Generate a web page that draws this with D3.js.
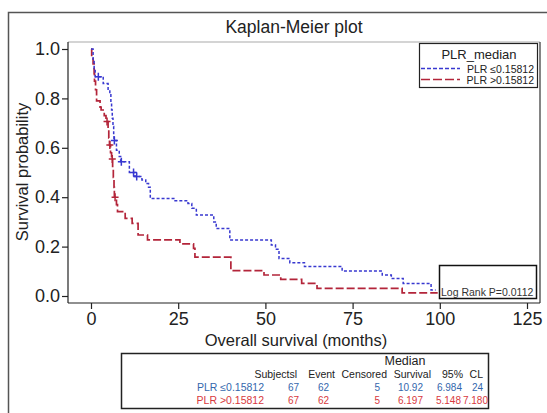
<!DOCTYPE html>
<html>
<head>
<meta charset="utf-8">
<script src="https://cdn.jsdelivr.net/npm/d3@7"></script>
<style>
  body { margin: 0; background: #fff; }
  svg { font-family: "Liberation Sans", Arial, sans-serif; }
</style>
</head>
<body>
<svg id="chart" width="547" height="413"></svg>
<script>
// survival curves (months, survival probability)
const blueTimes = [0, 0.6, 0.9, 1.2, 3.5, 4.9, 5.4, 5.7, 5.9, 6.1, 6.3, 6.5, 6.6, 7.3, 8.1, 8.5, 11.0, 12.6, 14.6, 15.7, 16.5, 17.0, 24.1, 27.8, 28.9, 30.2, 35.2, 35.9, 39.8, 51.7, 52.9, 53.9, 57.0, 61.2, 72.0, 83.5, 86.1, 89.5, 97.5, 98.8]
const blueSurv  = [1.0, 0.955, 0.92, 0.888, 0.86, 0.834, 0.82, 0.78, 0.753, 0.72, 0.686, 0.65, 0.63, 0.59, 0.565, 0.544, 0.50, 0.484, 0.47, 0.455, 0.44, 0.395, 0.386, 0.375, 0.355, 0.328, 0.30, 0.273, 0.227, 0.206, 0.189, 0.152, 0.135, 0.119, 0.101, 0.085, 0.071, 0.051, 0.024, 0.024]
const blueCensT = [2.1, 6.7, 8.7, 12.2, 13.1]
const blueCensS = [0.888, 0.63, 0.544, 0.50, 0.484]

const redTimes = [0, 0.2, 0.6, 0.9, 1.0, 1.3, 1.6, 2.6, 2.9, 3.8, 4.3, 4.9, 5.1, 5.3, 5.6, 5.9, 6.2, 6.4, 6.6, 6.7, 7.3, 7.6, 9.8, 11.8, 13.5, 16.2, 25.5, 29.4, 29.8, 40.1, 49.6, 54.4, 60.4, 64.8, 89.2, 99.4]
const redSurv  = [1.0, 0.97, 0.94, 0.90, 0.87, 0.835, 0.79, 0.765, 0.753, 0.73, 0.706, 0.68, 0.64, 0.611, 0.58, 0.555, 0.52, 0.48, 0.44, 0.40, 0.37, 0.342, 0.314, 0.294, 0.247, 0.227, 0.211, 0.193, 0.157, 0.103, 0.085, 0.067, 0.051, 0.031, 0.013, 0.013]
const redCensT = [4.6, 5.4, 6.1, 6.9]
const redCensS = [0.706, 0.611, 0.555, 0.40]

const xTicks = [0, 25, 50, 75, 100, 125]
const yTicks = [0, 0.2, 0.4, 0.6, 0.8, 1.0]

const groupLabels = ['PLR \u22640.15812', 'PLR >0.15812']
const tableHeads = ['Subjectsl', 'Event', 'Censored', 'Survival', '95%', 'CL']
const tableRows = [
    ['67', '62', '5', '10.92', '6.984', '24'],
    ['67', '62', '5', '6.197', '5.148', '7.180']
]
const pValueText = 'Log Rank P=0.0112'

const blueCol = '#3838d0'
const redCol = '#b3253a'
const blueTxt = '#3467ad'
const redTxt = '#d8393e'

const svg = d3.select('#chart')

// outer frame
svg.append('rect')
    .attr('x', 8.5).attr('y', 12.5)
    .attr('width', 580).attr('height', 440)
    .attr('fill', 'none').attr('stroke', '#555').attr('stroke-width', 1.5)

const plot = {left: 68, top: 42, right: 540, bottom: 303}

const x = d3.scaleLinear().domain([0, 125]).range([91, 527])
const y = d3.scaleLinear().domain([0, 1]).range([296, 49])

// plot frame
svg.append('line').attr('x1', plot.left).attr('x2', plot.right).attr('y1', plot.top).attr('y2', plot.top)
    .attr('stroke', '#aaa').attr('stroke-width', 1.2)
svg.append('line').attr('x1', plot.right).attr('x2', plot.right).attr('y1', plot.top).attr('y2', plot.bottom)
    .attr('stroke', '#333').attr('stroke-width', 1.2)

// axes
const xAxis = d3.axisBottom(x).tickValues(xTicks).tickSize(6).tickPadding(3).tickFormat(d3.format('d'))
const xAxisG = svg.append('g')
    .attr('transform', `translate(0,${plot.bottom})`)
    .call(xAxis)
xAxisG.select('.domain').attr('d', `M${plot.left},0H${plot.right}`).attr('stroke', '#222').attr('stroke-width', 1.2)

const yAxis = d3.axisLeft(y).tickValues(yTicks).tickSize(6).tickPadding(2).tickFormat(d3.format('.1f'))
const yAxisG = svg.append('g')
    .attr('transform', `translate(${plot.left},0)`)
    .call(yAxis)
yAxisG.select('.domain').attr('d', `M0,${plot.top}V${plot.bottom}`).attr('stroke', '#222').attr('stroke-width', 1.2)

svg.selectAll('.tick line').attr('stroke', '#222').attr('stroke-width', 1.2)
svg.selectAll('.tick text').attr('font-size', 18).attr('fill', '#222').attr('font-family', '"Liberation Sans", Arial, sans-serif')

// titles
svg.append('text')
    .attr('x', 294).attr('y', 33)
    .attr('text-anchor', 'middle').attr('font-size', 17.5).attr('fill', '#222')
    .text('Kaplan-Meier plot')

svg.append('text')
    .attr('x', 296).attr('y', 346)
    .attr('text-anchor', 'middle').attr('font-size', 16.5).attr('fill', '#222')
    .text('Overall survival (months)')

svg.append('text')
    .attr('transform', 'translate(28,172) rotate(-90)')
    .attr('text-anchor', 'middle').attr('font-size', 16.5).attr('fill', '#222')
    .text('Survival probability')

// curves
const line = d3.line()
    .x(d => x(d[0]))
    .y(d => y(d[1]))
    .curve(d3.curveStepAfter)

const groups = [
    {t: blueTimes, s: blueSurv, ct: blueCensT, cs: blueCensS, col: blueCol, dash: '3,2', w: 1.5},
    {t: redTimes, s: redSurv, ct: redCensT, cs: redCensS, col: redCol, dash: '8,3', w: 1.7}
]

// red first, blue on top
groups.slice().reverse().forEach(g => {
    svg.append('path')
        .datum(g.t.map((t, i) => [t, g.s[i]]))
        .attr('d', line)
        .attr('fill', 'none')
        .attr('stroke', g.col)
        .attr('stroke-width', g.w)
        .attr('stroke-dasharray', g.dash)

    // censor marks
    svg.selectAll(null)
        .data(g.ct.map((t, i) => [t, g.cs[i]]))
        .join('path')
            .attr('d', d => `M${x(d[0]) - 3.5},${y(d[1])}h7M${x(d[0])},${y(d[1]) - 4}v8`)
            .attr('stroke', g.col)
            .attr('stroke-width', 1.5)
})

// legend
const leg = svg.append('g')
leg.append('rect')
    .attr('x', 419.5).attr('y', 43.5).attr('width', 118).attr('height', 44)
    .attr('fill', '#fff').attr('stroke', '#222').attr('stroke-width', 1.2)
leg.append('text')
    .attr('x', 479).attr('y', 58.5)
    .attr('text-anchor', 'middle').attr('font-size', 13).attr('fill', '#222')
    .text('PLR_median')
groups.forEach((g, i) => {
    const ly = 68.5 + i * 11
    leg.append('line')
        .attr('x1', 421).attr('x2', 460).attr('y1', ly).attr('y2', ly)
        .attr('stroke', g.col).attr('stroke-width', g.w)
        .attr('stroke-dasharray', i === 0 ? '4,2' : '9,3')
    leg.append('text')
        .attr('x', 534).attr('y', ly + 4)
        .attr('text-anchor', 'end').attr('font-size', 10.5).attr('fill', '#222')
        .text(groupLabels[i])
})

// log rank box
svg.append('rect')
    .attr('x', 439.5).attr('y', 265.5).attr('width', 97).attr('height', 33)
    .attr('fill', 'none').attr('stroke', '#111').attr('stroke-width', 1.5)
svg.append('text')
    .attr('x', 441).attr('y', 296)
    .attr('font-size', 10.5).attr('fill', '#333')
    .text(pValueText)

// summary table
svg.append('rect')
    .attr('x', 121.5).attr('y', 353.5).attr('width', 367).attr('height', 55)
    .attr('fill', '#fff').attr('stroke', '#222').attr('stroke-width', 1.5)

svg.append('text')
    .attr('x', 405).attr('y', 365)
    .attr('text-anchor', 'middle').attr('font-size', 12.5).attr('fill', '#222')
    .text('Median')

const colRight = [297, 335, 387, 431, 463, 483]
tableHeads.forEach((h, j) => {
    svg.append('text')
        .attr('x', colRight[j]).attr('y', 377.5)
        .attr('text-anchor', 'end').attr('font-size', 10.5).attr('fill', '#222')
        .text(h)
})

const valRight = [[299, 329, 380, 423, 462, 483], [299, 329, 380, 423, 461, 488]]
tableRows.forEach((row, i) => {
    const ry = 391 + i * 12.5
    const col = i === 0 ? blueTxt : redTxt
    svg.append('text')
        .attr('x', 264).attr('y', ry)
        .attr('text-anchor', 'end').attr('font-size', 10.5).attr('fill', col)
        .text(groupLabels[i])
    row.forEach((v, j) => {
        svg.append('text')
            .attr('x', valRight[i][j]).attr('y', ry)
            .attr('text-anchor', 'end').attr('font-size', 10).attr('fill', col)
            .text(v)
    })
})
</script>
</body>
</html>
